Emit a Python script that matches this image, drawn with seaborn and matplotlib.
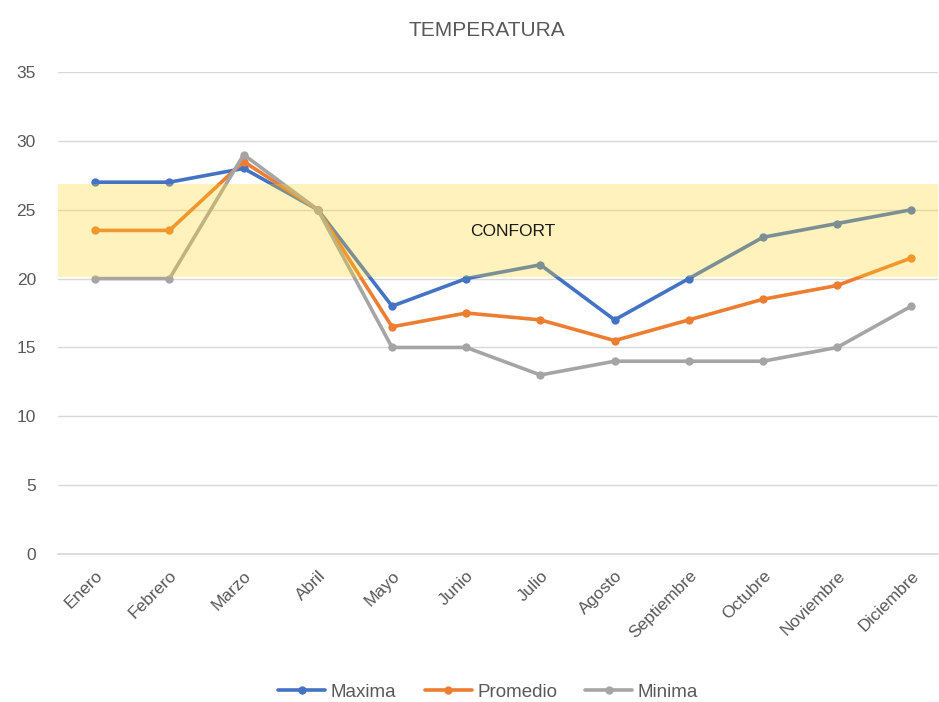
import matplotlib
matplotlib.use("Agg")
import matplotlib.pyplot as plt
import seaborn as sns
import pandas as pd

meses = ["Enero", "Febrero", "Marzo", "Abril", "Mayo", "Junio", "Julio",
         "Agosto", "Septiembre", "Octubre", "Noviembre", "Diciembre"]
maxima = [27, 27, 28, 25, 18, 20, 21, 17, 20, 23, 24, 25]
promedio = [23.5, 23.5, 28.5, 25, 16.5, 17.5, 17, 15.5, 17, 18.5, 19.5, 21.5]
minima = [20, 20, 29, 25, 15, 15, 13, 14, 14, 14, 15, 18]
confort = [20.1, 26.9]

sns.set_theme(style="white")
plt.rcParams["font.family"] = ["Liberation Sans", "DejaVu Sans"]

df = pd.DataFrame({
    "mes": meses * 3,
    "temp": maxima + promedio + minima,
    "serie": ["Maxima"] * 12 + ["Promedio"] * 12 + ["Minima"] * 12,
})
df["x"] = list(range(12)) * 3

fig = plt.figure(figsize=(9.39, 7.02), dpi=100)
ax = fig.add_axes([0.062, 0.2108, 0.937, 0.6866])

colores = {"Maxima": "#4472C4", "Promedio": "#ED7D31", "Minima": "#A5A5A5"}
sns.lineplot(data=df, x="x", y="temp", hue="serie", palette=colores,
             marker="o", markersize=6, markeredgewidth=0, linewidth=2.6,
             sort=False, ax=ax, zorder=3)

# banda de confort encima de las lineas
ax.axhspan(confort[0], confort[1], color="#FFD423", alpha=0.3, zorder=4, lw=0)
ax.text(5.63, 23.45, "CONFORT", fontsize=12.5, color="#1a1a1a",
        ha="center", va="center", zorder=5)

ax.set_ylim(0, 35)
ax.set_xlim(-0.5, 11.36)
ax.set_yticks(range(0, 36, 5))
ax.set_xticks(range(12))
ax.set_xticklabels(meses, rotation=45, ha="right", rotation_mode="anchor")
ax.tick_params(axis="both", colors="#595959", labelsize=12.5, length=0)
ax.tick_params(axis="y", pad=16)
ax.tick_params(axis="x", pad=10)
ax.grid(axis="y", color="#D9D9D9", linewidth=1)
ax.set_axisbelow(True)
for s in ["top", "right", "left"]:
    ax.spines[s].set_visible(False)
ax.spines["bottom"].set_color("#D9D9D9")
ax.set_xlabel("")
ax.set_ylabel("")

fig.text(0.518, 0.957, "TEMPERATURA", fontsize=15, color="#595959",
         ha="center", va="center")

h, l = ax.get_legend_handles_labels()
ax.legend(h, l, loc="center", ncol=3, frameon=False, fontsize=13.5,
          labelcolor="#595959", handlelength=2.5, columnspacing=1.5,
          handletextpad=0.3, bbox_to_anchor=(0.52, 0.014),
          bbox_transform=fig.transFigure)

fig.savefig("out.png", dpi=100, facecolor="white")
